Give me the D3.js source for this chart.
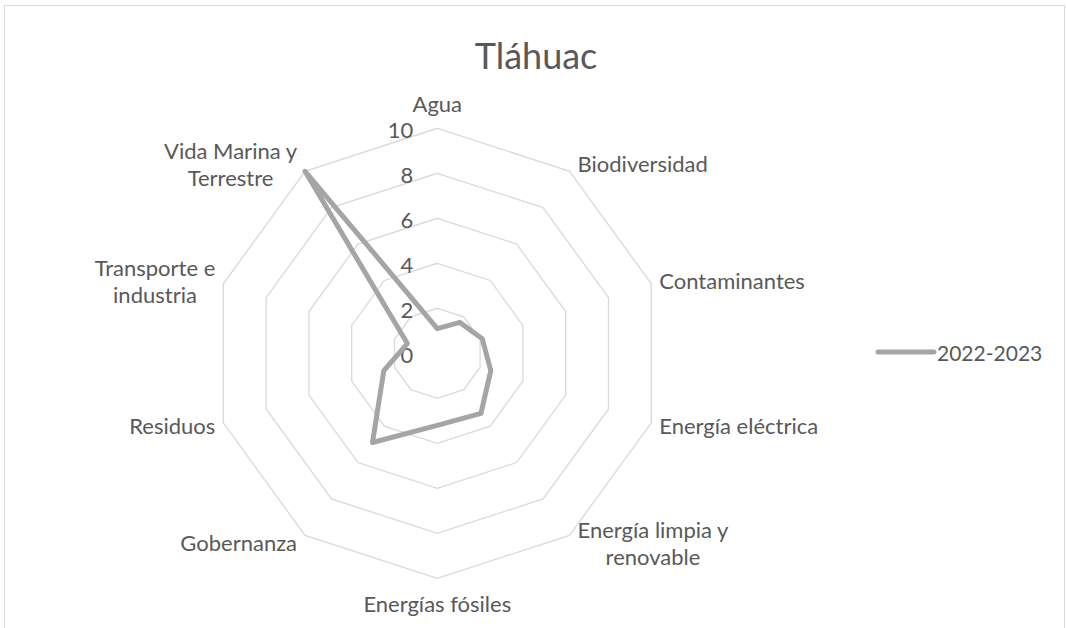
<!DOCTYPE html>
<html>
<head>
<meta charset="utf-8">
<script src="https://cdn.jsdelivr.net/npm/d3@7"></script>
<style>
    body { margin: 0; background: #fff; }
    text { font-family: Lato, "Open Sans", sans-serif; fill: #595959; }
</style>
</head>
<body>
<svg id="chart"></svg>
<script>
(function() {
    'use strict';

    var WIDTH = 1066, HEIGHT = 628;

    // data
    var title = 'Tláhuac';
    var categories = [
        ['Agua'],
        ['Biodiversidad'],
        ['Contaminantes'],
        ['Energía eléctrica'],
        ['Energía limpia y', 'renovable'],
        ['Energías fósiles'],
        ['Gobernanza'],
        ['Residuos'],
        ['Transporte e', 'industria'],
        ['Vida Marina y', 'Terrestre']
    ];
    var seriesName = '2022-2023';
    var values = [1.1, 1.7, 2.1, 2.5, 3.3, 3.2, 4.9, 2.5, 1.4, 10];
    var ticks = [0, 2, 4, 6, 8, 10];

    var svg = d3.select('#chart').attr('width', WIDTH).attr('height', HEIGHT);

    // chart area border (bottom runs off the picture)
    svg.append('rect')
        .attr('x', 4.5).attr('y', 5.5)
        .attr('width', WIDTH - 6).attr('height', HEIGHT + 20)
        .attr('fill', 'none').attr('stroke', '#d9d9d9').attr('stroke-width', 1);

    var center = { x: 437.3, y: 353.3 };
    var radius = 225;

    var r = d3.scaleLinear().domain([0, 10]).range([0, radius]);
    var angle = d3.scaleLinear().domain([0, categories.length]).range([0, 2 * Math.PI]);

    function point(i, v) {
        var a = angle(i);
        return [center.x + r(v) * Math.sin(a), center.y - r(v) * Math.cos(a)];
    }

    var line = d3.line();

    // grid rings
    svg.append('g').selectAll('path')
        .data(ticks.filter(t => t > 0))
        .enter().append('path')
            .attr('d', t => line(categories.map((c, i) => point(i, t))) + 'Z')
            .attr('fill', 'none')
            .attr('stroke', '#d9d9d9')
            .attr('stroke-width', 1.3);

    // tick labels along the first axis
    svg.append('g').selectAll('text')
        .data(ticks)
        .enter().append('text')
            .attr('x', center.x - 24)
            .attr('y', t => center.y - r(t) + 1)
            .attr('text-anchor', 'end')
            .attr('dominant-baseline', 'central')
            .attr('font-size', 22)
            .text(t => t);

    // series
    svg.append('path')
        .attr('d', line(values.map((v, i) => point(i, v))) + 'Z')
        .attr('fill', 'none')
        .attr('stroke', '#a5a5a5')
        .attr('stroke-width', 5)
        .attr('stroke-linejoin', 'round');

    // category labels
    var lineHeight = 27;
    var labels = svg.append('g').selectAll('text')
        .data(categories)
        .enter().append('text')
            .attr('font-size', 22);

    labels.each(function(lines, i) {
        var a = angle(i);
        var s = Math.sin(a), c = Math.cos(a);
        var v = point(i, 10);
        var el = d3.select(this);
        var top = Math.abs(s) < 0.1;
        var cy = top ? v[1] - c * 25 : v[1] - c * 9;
        var y0 = cy - (lines.length - 1) * lineHeight / 2;

        el.selectAll('tspan').data(lines).enter().append('tspan')
            .attr('dominant-baseline', 'central')
            .attr('text-anchor', 'middle')
            .attr('y', (d, k) => y0 + k * lineHeight)
            .text(d => d);

        var w = d3.max(el.selectAll('tspan').nodes(), n => n.getComputedTextLength());
        var cx = top ? v[0] : v[0] + Math.sign(s) * (8 + w / 2);
        el.selectAll('tspan').attr('x', cx);
    });

    // title
    svg.append('text')
        .attr('x', 536).attr('y', 55)
        .attr('text-anchor', 'middle')
        .attr('dominant-baseline', 'central')
        .attr('font-size', 36)
        .text(title);

    // legend
    var legend = svg.append('g').attr('transform', 'translate(878,352)');
    legend.append('line')
        .attr('x1', 0).attr('x2', 56)
        .attr('stroke', '#a5a5a5').attr('stroke-width', 5)
        .attr('stroke-linecap', 'round');
    legend.append('text')
        .attr('x', 59)
        .attr('dominant-baseline', 'central')
        .attr('font-size', 21)
        .text(seriesName);
})();
</script>
</body>
</html>
